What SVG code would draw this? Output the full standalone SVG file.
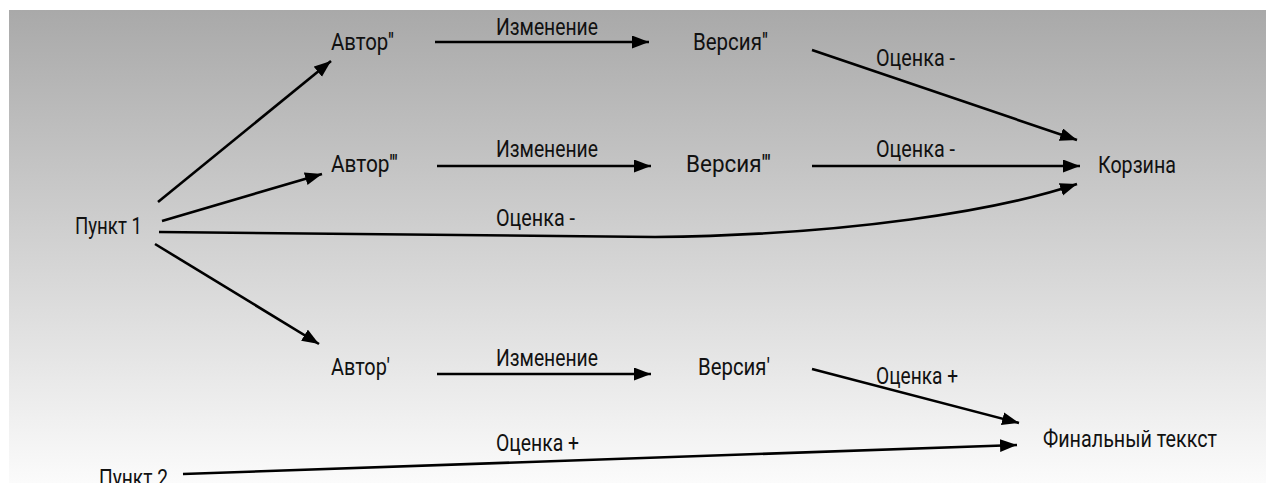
<svg xmlns="http://www.w3.org/2000/svg" width="1266" height="483" viewBox="0 0 1266 483">
  <defs>
    <linearGradient id="bg" x1="0" y1="0" x2="0" y2="1">
      <stop offset="0" stop-color="#a9a9a9"/>
      <stop offset="1" stop-color="#fbfbfb"/>
    </linearGradient>
    <marker id="arrow" markerUnits="userSpaceOnUse" markerWidth="18" markerHeight="14" refX="17" refY="6.5" orient="auto">
      <path d="M0,0 L17,6.5 L0,13 z" fill="#000"/>
    </marker>
    <style>
      .lbl { font-family: Roboto, "Liberation Sans", Arial, sans-serif; font-weight: 400; font-size: 24px; fill: #111; }
      .edge { fill: none; stroke: #000; stroke-width: 2.6; }
      .arr { marker-end: url(#arrow); }
    </style>
  </defs>

  <rect x="0" y="0" width="1266" height="483" fill="#fff"/>
  <rect x="9" y="10" width="1257" height="473" fill="url(#bg)"/>

  <g id="connectors">
    <line class="edge arr" x1="158" y1="202" x2="331" y2="61"/>
    <line class="edge arr" x1="162" y1="221" x2="322" y2="174"/>
    <path class="edge arr" d="M159,232 L655,237 C850,235 1000,210 1077,184"/>
    <line class="edge arr" x1="155" y1="244" x2="319" y2="344"/>
    <line class="edge arr" x1="435" y1="42" x2="649" y2="42"/>
    <line class="edge arr" x1="437" y1="166" x2="651" y2="166"/>
    <line class="edge arr" x1="437" y1="374" x2="651" y2="374"/>
    <line class="edge arr" x1="812" y1="50" x2="1077" y2="140"/>
    <line class="edge arr" x1="812" y1="166" x2="1080" y2="166"/>
    <line class="edge arr" x1="812" y1="369" x2="1019" y2="423"/>
    <line class="edge arr" x1="183" y1="474" x2="1017" y2="445"/>
  </g>

  <g id="edge-labels">
    <text class="lbl" x="496" y="35" textLength="102" lengthAdjust="spacingAndGlyphs">Изменение</text>
    <text class="lbl" x="496" y="157" textLength="102" lengthAdjust="spacingAndGlyphs">Изменение</text>
    <text class="lbl" x="496" y="366" textLength="102" lengthAdjust="spacingAndGlyphs">Изменение</text>
    <text class="lbl" x="876" y="66" textLength="79" lengthAdjust="spacingAndGlyphs">Оценка -</text>
    <text class="lbl" x="876" y="157" textLength="79" lengthAdjust="spacingAndGlyphs">Оценка -</text>
    <text class="lbl" x="496" y="226" textLength="79" lengthAdjust="spacingAndGlyphs">Оценка -</text>
    <text class="lbl" x="876" y="384" textLength="82" lengthAdjust="spacingAndGlyphs">Оценка +</text>
    <text class="lbl" x="496" y="451" textLength="83" lengthAdjust="spacingAndGlyphs">Оценка +</text>
  </g>

  <g id="punkt1"><text class="lbl" x="75" y="234" textLength="67" lengthAdjust="spacingAndGlyphs">Пункт 1</text></g>
  <g id="punkt2"><text class="lbl" x="99" y="486" textLength="69" lengthAdjust="spacingAndGlyphs">Пункт 2</text></g>
  <g id="avtor2"><text class="lbl" x="331" y="50" textLength="63" lengthAdjust="spacingAndGlyphs">Автор''</text></g>
  <g id="avtor3"><text class="lbl" x="331" y="172" textLength="67" lengthAdjust="spacingAndGlyphs">Автор'''</text></g>
  <g id="avtor1"><text class="lbl" x="331" y="375" textLength="59" lengthAdjust="spacingAndGlyphs">Автор'</text></g>
  <g id="versiya2"><text class="lbl" x="693" y="50" textLength="75" lengthAdjust="spacingAndGlyphs">Версия''</text></g>
  <g id="versiya3"><text class="lbl" x="686" y="172" textLength="85" lengthAdjust="spacingAndGlyphs">Версия'''</text></g>
  <g id="versiya1"><text class="lbl" x="698" y="375" textLength="72" lengthAdjust="spacingAndGlyphs">Версия'</text></g>
  <g id="korzina"><text class="lbl" x="1098" y="173" textLength="78" lengthAdjust="spacingAndGlyphs">Корзина</text></g>
  <g id="final"><text class="lbl" x="1043" y="447" textLength="174" lengthAdjust="spacingAndGlyphs">Финальный теккст</text></g>
</svg>
